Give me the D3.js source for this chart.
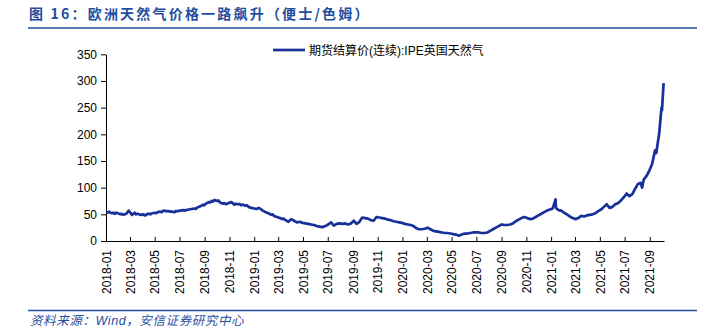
<!DOCTYPE html>
<html><head><meta charset="utf-8">
<script src="https://cdn.jsdelivr.net/npm/d3@7"></script>
<style>
body{margin:0;background:#fff;}
svg{display:block;}
</style></head>
<body><svg id="c" width="701" height="329"></svg>
<script>
const titleText = "图 16：欧洲天然气价格一路飙升（便士/色姆）";
const sourceText = "资料来源：Wind，安信证券研究中心";
const seriesName = "期货结算价(连续):IPE英国天然气";
const yTicks = [0,50,100,150,200,250,300,350];
const xTickLabels = ["2018-01","2018-03","2018-05","2018-07","2018-09","2018-11","2019-01","2019-03","2019-05","2019-07","2019-09","2019-11","2020-01","2020-03","2020-05","2020-07","2020-09","2020-11","2021-01","2021-03","2021-05","2021-07","2021-09"];
const dates = [
"2018-01-02","2018-01-05","2018-01-09","2018-01-12","2018-01-16","2018-01-19","2018-01-23","2018-01-26","2018-01-30","2018-02-02","2018-02-06","2018-02-09","2018-02-13","2018-02-16","2018-02-20","2018-02-26","2018-03-02","2018-03-06","2018-03-09","2018-03-13","2018-03-16","2018-03-20","2018-03-23","2018-03-27",
"2018-04-03","2018-04-06","2018-04-10","2018-04-13","2018-04-17","2018-04-20","2018-04-24","2018-05-01","2018-05-04","2018-05-08","2018-05-15","2018-05-18","2018-05-22","2018-05-29","2018-06-05","2018-06-08","2018-06-12","2018-06-19","2018-06-22","2018-06-26",
"2018-07-03","2018-07-10","2018-07-13","2018-07-17","2018-07-24","2018-07-31","2018-08-07","2018-08-10","2018-08-14","2018-08-21","2018-08-28","2018-08-31","2018-09-04","2018-09-11","2018-09-14","2018-09-18","2018-09-21","2018-09-25",
"2018-10-02","2018-10-05","2018-10-09","2018-10-16","2018-10-19","2018-10-23","2018-10-30","2018-11-02","2018-11-06","2018-11-13","2018-11-16","2018-11-20","2018-11-27","2018-11-30","2018-12-04","2018-12-11","2018-12-14","2018-12-18","2018-12-25",
"2019-01-01","2019-01-08","2019-01-11","2019-01-15","2019-01-22","2019-01-29","2019-02-05","2019-02-12","2019-02-15","2019-02-19","2019-02-26","2019-03-05","2019-03-12","2019-03-15","2019-03-19","2019-03-26",
"2019-04-02","2019-04-09","2019-04-16","2019-04-23","2019-04-30","2019-05-07","2019-05-14","2019-05-21","2019-05-28","2019-06-04","2019-06-11","2019-06-18","2019-06-25",
"2019-07-02","2019-07-09","2019-07-16","2019-07-23","2019-07-30","2019-08-06","2019-08-13","2019-08-20","2019-08-27","2019-09-03","2019-09-10","2019-09-17","2019-09-24",
"2019-10-01","2019-10-08","2019-10-15","2019-10-22","2019-10-29","2019-11-05","2019-11-12","2019-11-19","2019-11-26","2019-12-03","2019-12-10","2019-12-17","2019-12-24","2019-12-31",
"2020-01-07","2020-01-14","2020-01-21","2020-01-28","2020-02-04","2020-02-11","2020-02-18","2020-02-25","2020-03-03","2020-03-10","2020-03-17","2020-03-24","2020-03-31",
"2020-04-07","2020-04-14","2020-04-21","2020-04-28","2020-05-05","2020-05-12","2020-05-19","2020-05-26","2020-06-02","2020-06-09","2020-06-16","2020-06-23","2020-06-30",
"2020-07-07","2020-07-14","2020-07-21","2020-07-28","2020-08-04","2020-08-11","2020-08-18","2020-08-25","2020-09-01","2020-09-08","2020-09-15","2020-09-22","2020-09-29",
"2020-10-06","2020-10-13","2020-10-20","2020-10-27","2020-11-03","2020-11-10","2020-11-17","2020-11-24","2020-12-01","2020-12-08","2020-12-15","2020-12-22","2020-12-29",
"2021-01-05","2021-01-12","2021-01-13","2021-01-19","2021-01-26","2021-02-02","2021-02-09","2021-02-16","2021-02-23","2021-03-02","2021-03-09","2021-03-16","2021-03-23","2021-03-30",
"2021-04-06","2021-04-13","2021-04-20","2021-04-27","2021-05-04","2021-05-11","2021-05-18","2021-05-25","2021-06-01","2021-06-08","2021-06-15","2021-06-22","2021-06-29",
"2021-07-06","2021-07-13","2021-07-20","2021-07-27","2021-08-03","2021-08-10","2021-08-13","2021-08-17","2021-08-24","2021-08-31",
"2021-09-07","2021-09-14","2021-09-17","2021-09-21","2021-09-24","2021-09-28","2021-09-30","2021-10-01","2021-10-05"];
const values = [
54,53,55,53,52,53,51,53,52,51,50,51,49,50,51,57,53,49,51,53,50,51,50,49,
50,48,49,51,51,50,52,53,52,54,55,54,57,56,56,55,55,54,56,56,
57,58,57,58,59,60,61,60,63,65,68,67,70,73,72,75,74,77,
75,76,72,70,71,69,71,72,73,68,70,69,69,67,68,66,67,64,62,
61,60,62,61,57,54,52,49,50,47,45,43,41,42,39,36,
41,38,35,36,34,33,32,31,30,28,27,26,28,
31,35,29,32,33,32,33,31,33,38,32,36,44,
43,42,39,38,45,44,43,42,40,39,37,36,35,34,
32,31,30,28,24,22,22,23,25,22,19,18,17,
16,15,15,14,13,12,10,12,14,14,15,16,16,
16,15,15,16,19,22,25,28,31,30,30,31,33,
37,40,43,45,43,41,42,45,48,51,54,57,59,
61,78,62,58,57,53,50,46,43,41,43,47,46,48,
49,50,52,56,59,64,69,62,64,69,71,76,82,
89,84,88,98,107,109,100,115,122,132,
145,170,165,186,200,235,250,245,296];

const svg = d3.select("#c");
const blue = "#1f4e9f";
const cjk = "'Liberation Sans','Noto Sans CJK SC',sans-serif";

// title
svg.append("text").attr("x",29).attr("y",19)
  .attr("font-family","'Noto Sans CJK SC',sans-serif").attr("font-weight","bold")
  .attr("font-size",14).attr("letter-spacing","2.2px").attr("fill",blue).text(titleText);
svg.append("line").attr("x1",28).attr("x2",697).attr("y1",28).attr("y2",28)
  .attr("stroke",blue).attr("stroke-width",1.5);

// source
svg.append("line").attr("x1",28).attr("x2",697).attr("y1",310.5).attr("y2",310.5)
  .attr("stroke",blue).attr("stroke-width",1.5);
svg.append("text").attr("x",30).attr("y",325)
  .attr("font-family",cjk).attr("font-style","italic")
  .attr("font-size",12.5).attr("letter-spacing","0.6px").attr("fill",blue).text(sourceText);

const parse = d3.timeParse("%Y-%m-%d");
const data = dates.map((d,i)=>({date:parse(d), value:values[i]}));

const x = d3.scaleTime().domain([parse("2018-01-01"), parse("2021-10-06")]).range([106,664]);
const y = d3.scaleLinear().domain([0,350]).range([241,54.3]);

// y axis
const yAxis = svg.append("g").attr("transform","translate(106,0)")
  .call(d3.axisLeft(y).tickValues(yTicks).tickSize(5).tickPadding(4).tickSizeOuter(0));
yAxis.select(".domain").attr("stroke","#000");
yAxis.selectAll("text").attr("font-family","'Liberation Sans',Arial,sans-serif").attr("font-size",12).attr("fill","#000");

// x axis
const xt = xTickLabels.map(s=>d3.timeParse("%Y-%m")(s));
const xAxis = svg.append("g").attr("transform","translate(0,241)")
  .call(d3.axisBottom(x).tickValues(xt).tickFormat(d3.timeFormat("%Y-%m")).tickSize(-4).tickSizeOuter(0));
xAxis.select(".domain").attr("stroke","#000");
xAxis.selectAll("text").attr("font-family","'Liberation Sans',Arial,sans-serif").attr("font-size",12).attr("fill","#000")
  .attr("text-anchor","end").attr("transform","rotate(-90)").attr("x",-9).attr("y",0).attr("dy","0.35em");

// line
const line = d3.line().x(d=>x(d.date)).y(d=>y(d.value));
svg.append("path").datum(data).attr("d",line).attr("fill","none")
  .attr("stroke","#17309a").attr("stroke-width",2.7).attr("stroke-linejoin","round");

// legend
svg.append("line").attr("x1",273).attr("x2",305).attr("y1",50).attr("y2",50)
  .attr("stroke","#17309a").attr("stroke-width",2.7);
svg.append("text").attr("x",309).attr("y",54.5).attr("font-family",cjk)
  .attr("font-size",12).attr("fill","#000").text(seriesName);
</script></body></html>
